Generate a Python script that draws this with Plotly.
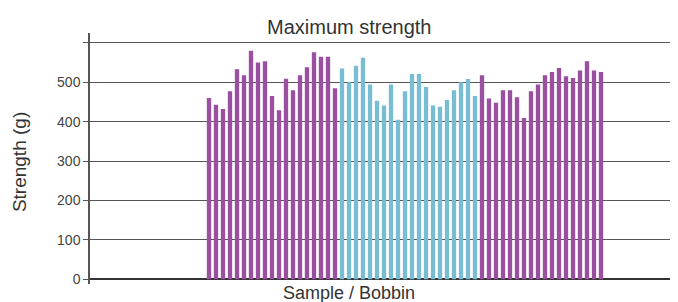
import plotly.graph_objects as go

group1 = [460, 443, 432, 477, 533, 518, 580, 550, 553, 465, 429, 509, 480, 518, 538, 576, 565, 565, 485]
group2 = [535, 500, 542, 562, 494, 453, 441, 494, 405, 477, 521, 521, 488, 441, 438, 455, 480, 500, 508, 465]
group3 = [518, 459, 448, 480, 480, 462, 409, 477, 494, 518, 526, 536, 515, 511, 530, 553, 530, 526]

purple = "#9B4FA1"
blue = "#78BDD2"

values = group1 + group2 + group3
colors = [purple] * len(group1) + [blue] * len(group2) + [purple] * len(group3)
xs = list(range(len(values)))

fig = go.Figure()
fig.add_trace(go.Bar(x=xs, y=values, marker=dict(color=colors, line=dict(width=0)), width=0.62))

font = "Liberation Sans, Arial, sans-serif"
fig.update_layout(
    width=670, height=294,
    margin=dict(l=82, r=0, t=25, b=18),
    plot_bgcolor="white", paper_bgcolor="white",
    showlegend=False,
    font=dict(family=font, color="#333"),
    xaxis=dict(range=[-17, 67], showticklabels=False, showgrid=False, zeroline=False, ticks=""),
    yaxis=dict(range=[-12, 625], tickvals=[0, 100, 200, 300, 400, 500, 600],
               ticktext=["0", "100", "200", "300", "400", "500", ""],
               showgrid=True, gridcolor="#555", gridwidth=1,
               zeroline=True, zerolinecolor="#333", zerolinewidth=1.5,
               showline=True, linecolor="#555", linewidth=1.5,
               ticks="outside", ticklen=5, tickcolor="#555",
               tickfont=dict(size=14, color="#444")),
    annotations=[
        dict(text="Maximum strength", x=0.441, y=1.025, xref="paper", yref="paper",
             xanchor="center", yanchor="middle", showarrow=False, font=dict(size=20, color="#333")),
        dict(text="Sample / Bobbin", x=0.44, y=-0.034, xref="paper", yref="paper",
             xanchor="center", yanchor="middle", showarrow=False, font=dict(size=18, color="#333")),
        dict(text="Strength (g)", x=-0.121, y=0.485, xref="paper", yref="paper",
             xanchor="center", yanchor="middle", textangle=-90, showarrow=False, font=dict(size=19, color="#333")),
    ],
)
fig.write_html("out.html")
